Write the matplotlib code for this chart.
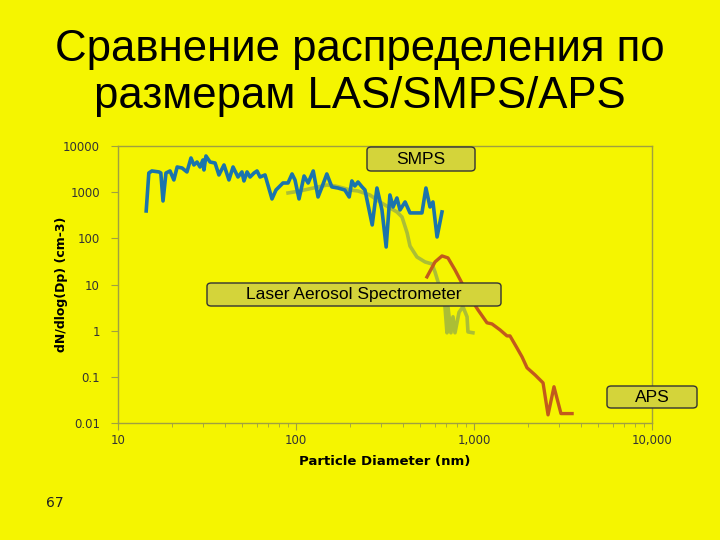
import matplotlib
matplotlib.use('Agg')
import matplotlib.pyplot as plt
from matplotlib.patches import FancyBboxPatch
from matplotlib.ticker import FixedLocator, LogLocator, NullFormatter

# SMPS (blue)
smps_dp = [14.4, 14.9, 15.5, 17.0, 17.4, 17.9, 18.6, 19.6, 20.6, 21.5, 22.9, 24.4, 25.7, 26.7,
           27.8, 28.9, 30.0, 30.4, 31.2, 32.9, 35.1, 36.9, 39.4, 42.0, 44.3, 47.2, 49.7, 51.0,
           53.1, 55.2, 58.1, 60.4, 62.8, 67.0, 73.3, 77.2, 84.5, 90.2, 95.0, 98.7, 104, 111,
           117, 125, 133, 140, 149, 159, 172, 188, 199, 206, 214, 223, 235, 244, 268, 285,
           304, 321, 337, 351, 369, 384, 410, 437, 510, 537, 566, 588, 620, 661]
smps_n = [392, 2600, 2880, 2740, 2600, 645, 2600, 2880, 1840, 3510, 3340, 2740, 5500, 3880,
          4500, 3510, 4980, 3030, 6080, 4500, 4280, 2360, 3880, 1840, 3510, 2130, 2740, 1750,
          2740, 2130, 2600, 2880, 2130, 2360, 713, 1115, 1580, 1580, 2480, 1840, 713, 2240,
          1580, 2880, 787, 1300, 2480, 1300, 1230, 1115, 787, 1750, 1360, 1660, 1300, 1115, 195, 1230,
          412, 65, 870, 478, 748, 412, 614, 355, 355, 1230, 478, 614, 107, 373]

# LAS (green)
las_dp = [90.2, 105, 125, 149, 166, 184, 201, 223, 260, 296, 337, 369, 394, 421, 437, 478,
          531, 581, 604, 628, 661, 687, 705, 714, 742, 762, 782, 824, 867, 914, 925, 986]
las_n = [961, 1060, 1230, 1430, 1360, 1230, 1115, 1060, 870, 614, 455, 373, 290, 131, 68, 39.5,
         30.8, 27.9, 18.7, 11.4, 6.6, 3.3, 0.90, 3.3, 0.90, 2.0, 0.90, 2.5, 3.3, 2.0, 0.94, 0.90]

# APS (orange)
aps_dp = [544, 604, 661, 714, 782, 914, 1053, 1183, 1262, 1400, 1532, 1593, 1745, 1862,
          1986, 2203, 2443, 2606, 2814, 3080, 3556]
aps_n = [14.6, 30.8, 41.6, 37.7, 20.7, 6.6, 2.82, 1.48, 1.40, 1.04, 0.77, 0.77, 0.42, 0.27,
         0.157, 0.110, 0.074, 0.015, 0.061, 0.016, 0.016]

x_ticks = [10, 100, 1000, 10000]
x_labels = ['10', '100', '1,000', '10,000']
y_ticks = [0.01, 0.1, 1, 10, 100, 1000, 10000]
y_labels = ['0.01', '0.1', '1', '10', '100', '1000', '10000']

bg = '#f5f500'
axis_col = '#a0a040'

fig = plt.figure(figsize=(7.2, 5.4), dpi=100, facecolor=bg)
ax = fig.add_axes([118 / 720, 1 - 423 / 540, (652 - 118) / 720, (423 - 146) / 540])
ax.set_facecolor(bg)

ax.plot(las_dp, las_n, color='#a3b83c', lw=2.6, alpha=0.9, solid_joinstyle='round')
ax.plot(smps_dp, smps_n, color='#1a74ac', lw=2.6, solid_joinstyle='round')
ax.plot(aps_dp, aps_n, color='#c25a1c', lw=2.4, solid_joinstyle='round')

ax.set_xscale('log')
ax.set_yscale('log')
ax.set_xlim(10, 10000)
ax.set_ylim(0.01, 10000)

ax.xaxis.set_major_locator(FixedLocator(x_ticks))
ax.set_xticklabels(x_labels)
ax.xaxis.set_minor_locator(LogLocator(base=10, subs=range(2, 10)))
ax.xaxis.set_minor_formatter(NullFormatter())
ax.yaxis.set_major_locator(FixedLocator(y_ticks))
ax.set_yticklabels(y_labels)
ax.yaxis.set_minor_locator(FixedLocator([]))

for s in ax.spines.values():
    s.set_color(axis_col)
    s.set_linewidth(1.0)
ax.tick_params(axis='both', which='both', colors=axis_col, labelcolor='#333333', labelsize=8.5)
ax.tick_params(axis='x', which='major', length=5, pad=3)
ax.tick_params(axis='x', which='minor', length=3)
ax.tick_params(axis='y', which='major', length=5, pad=8)

ax.set_xlabel('Particle Diameter (nm)', fontsize=9.5, fontweight='bold')
ax.set_ylabel('dN/dlog(Dp) (cm-3)', fontsize=9, fontweight='bold')
ax.xaxis.set_label_coords(0.5, -(462 - 423) / 277, transform=ax.transAxes)
ax.yaxis.set_label_coords((62 - 118) / 534, 0.5, transform=ax.transAxes)
ax.xaxis.label.set_va('center')
ax.yaxis.label.set_va('center')

fig.text(0.5, 1 - 29 / 540, 'Сравнение распределения по\nразмерам LAS/SMPS/APS',
         ha='center', va='top', fontsize=31.5, family='Liberation Sans', linespacing=1.2)


def label_box(x0, y0, x1, y1, text):
    w = (x1 - x0) / 720
    h = (y1 - y0) / 540
    fx = x0 / 720
    fy = 1 - y1 / 540
    box = FancyBboxPatch((fx, fy), w, h, boxstyle='round,pad=0,rounding_size=0.006',
                         transform=fig.transFigure, facecolor='#d4d43a', edgecolor='#333333',
                         lw=1.0, zorder=5)
    fig.patches.append(box)
    fig.text(fx + w / 2, fy + h / 2, text, ha='center', va='center', fontsize=12.5,
             family='Liberation Sans', zorder=6)


label_box(367, 147, 475, 171, 'SMPS')
label_box(207, 283, 501, 306, 'Laser Aerosol Spectrometer')
label_box(607, 386, 697, 408, 'APS')

fig.text(55 / 720, 1 - 503 / 540, '67', ha='center', va='center', fontsize=10,
         family='DejaVu Sans', color='#222222')

fig.savefig('out.png', dpi=100, facecolor=bg)
